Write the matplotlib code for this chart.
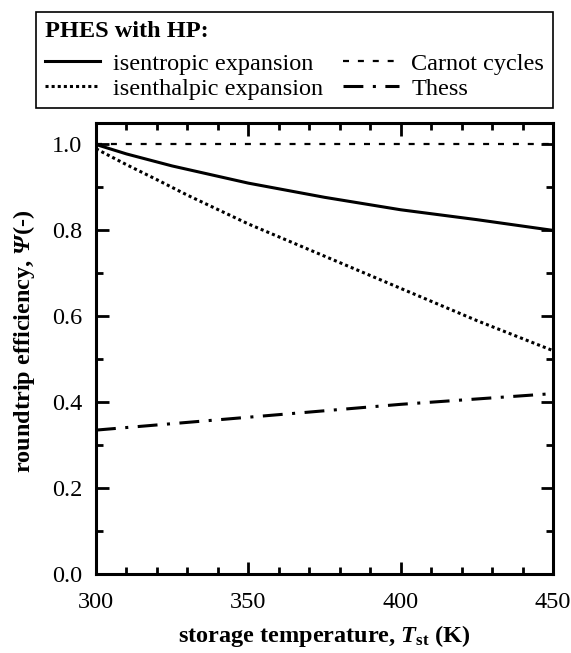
import matplotlib
matplotlib.use("Agg")
import matplotlib.pyplot as plt
from matplotlib.ticker import MultipleLocator, FormatStrFormatter

plt.rcParams['font.family'] = ['Liberation Serif', 'DejaVu Serif']
plt.rcParams['mathtext.fontset'] = 'custom'
plt.rcParams['mathtext.rm'] = 'Liberation Serif:bold'
plt.rcParams['mathtext.it'] = 'Liberation Serif:bold:italic'
plt.rcParams['mathtext.sf'] = 'Liberation Serif:bold:italic'
plt.rcParams['mathtext.bf'] = 'Liberation Serif:bold'

# storage temperature (K) vs roundtrip efficiency
T_isentropic = [300, 310, 325, 350, 375, 400, 425, 450]
psi_isentropic = [1.0, 0.978, 0.95, 0.91, 0.877, 0.848, 0.825, 0.80]

T_isenthalpic = [300, 310, 320, 330, 350, 375, 400, 425, 450]
psi_isenthalpic = [0.99, 0.953, 0.918, 0.882, 0.815, 0.74, 0.665, 0.59, 0.52]

T_carnot = [300, 450]
psi_carnot = [1.0, 1.0]

T_thess = [300, 350, 400, 450]
psi_thess = [0.335, 0.365, 0.395, 0.42]

labels = ['isentropic expansion', 'isenthalpic expansion', 'Carnot cycles', 'Thess']

fs = 17.5

fig = plt.figure(figsize=(5.71, 6.53), dpi=100)
ax = fig.add_axes([96/571, 1-574/653, 457/571, 451/653])

l1, = ax.plot(T_isentropic, psi_isentropic, color='black', lw=2.2, ls='-')
l2, = ax.plot(T_isenthalpic, psi_isenthalpic, color='black', lw=2.2, ls=(0, (1, 1)))
l3, = ax.plot(T_carnot, psi_carnot, color='black', lw=1.6, ls=(0, (2.7, 4)))
l4, = ax.plot(T_thess, psi_thess, color='black', lw=2.2, ls=(0, (6.5, 3.1, 1, 3.1)))

ax.set_xlim(300, 450)
ax.set_ylim(0.0, 1.05)
ax.xaxis.set_major_locator(MultipleLocator(50))
ax.xaxis.set_minor_locator(MultipleLocator(10))
ax.yaxis.set_major_locator(MultipleLocator(0.2))
ax.yaxis.set_minor_locator(MultipleLocator(0.1))
ax.yaxis.set_major_formatter(FormatStrFormatter('%.1f'))
ax.tick_params(which='both', direction='in', top=True, right=True, width=2, labelsize=fs)
ax.tick_params(which='major', length=9)
ax.tick_params(which='minor', length=5)
ax.tick_params(axis='x', which='major', pad=13)
ax.tick_params(axis='y', which='major', pad=10)
for s in ax.spines.values():
    s.set_linewidth(2.2)

ax.set_xlabel(r'storage temperature, $T_{\mathrm{st}}$ (K)', fontsize=fs, fontweight='bold')
ax.set_ylabel(r'roundtrip efficiency, $\mathsf{\Psi}$(-)', fontsize=fs, fontweight='bold')
ax.xaxis.set_label_coords(0.5, -0.108)
ax.yaxis.set_label_coords(-0.129, 0.517)

leg = fig.legend([l1, l2, l3, l4], labels,
                 ncol=2, loc='upper left', bbox_to_anchor=(36/571, 1-12.5/653),
                 title='PHES with HP:', title_fontproperties={'weight': 'bold', 'size': fs},
                 alignment='left', fontsize=fs, frameon=True, fancybox=False,
                 edgecolor='black', framealpha=1, handlelength=2.3, handletextpad=0.5,
                 columnspacing=0.85, borderpad=0.35, labelspacing=0.12, borderaxespad=0)
leg.get_frame().set_linewidth(1.2)
# more room between the title and the entries
leg._legend_box.sep = 7.8

fig.savefig('out.png', dpi=100)
